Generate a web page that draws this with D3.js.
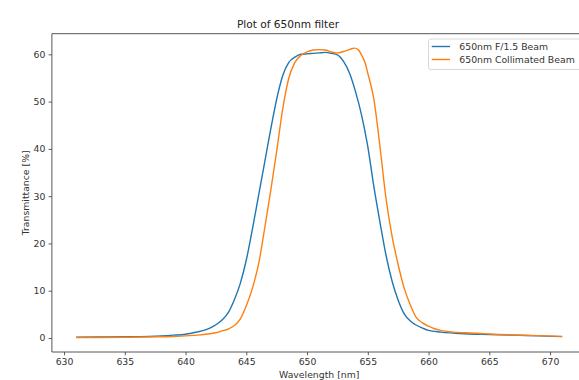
<!DOCTYPE html>
<html>
<head>
<meta charset="utf-8">
<script src="https://cdn.jsdelivr.net/npm/d3@7"></script>
<style>
  body { margin: 0; background: #fff; }
  text { font-family: "DejaVu Sans", sans-serif; }
</style>
</head>
<body>
<div id="chart"></div>
<script>
// wavelength [nm] / transmittance [%]
const blueWl = [631, 633, 635, 637, 638, 639, 640, 641, 641.5, 642, 642.5, 643, 643.5, 644, 644.5, 645, 645.5, 646, 646.5, 647, 647.5, 648, 648.5, 649, 649.5, 650, 650.5, 651, 651.5, 652, 652.5, 653, 653.5, 654, 654.5, 655, 655.5, 656, 656.5, 657, 657.5, 658, 658.5, 659, 659.5, 660, 661, 662, 663, 665, 667, 669, 671];
const blueT = [0.15, 0.2, 0.25, 0.35, 0.45, 0.6, 0.8, 1.3, 1.6, 2.1, 2.8, 3.8, 5.3, 8.0, 11.5, 16.5, 23, 30, 37, 44, 50.5, 55.5, 58.3, 59.4, 60.0, 60.1, 60.2, 60.3, 60.4, 60.2, 59.9, 58.5, 56, 52, 47, 40.5, 32, 24.5, 17.5, 12, 8, 5.1, 3.6, 2.7, 2.1, 1.6, 1.25, 1.05, 0.9, 0.75, 0.6, 0.45, 0.3];

const orangeWl = [631, 633, 635, 637, 638, 639, 640, 641, 642, 642.5, 643, 643.5, 644, 644.5, 645, 645.5, 646, 646.5, 647, 647.5, 648, 648.5, 649, 649.5, 650, 650.5, 651, 651.5, 652, 652.5, 653, 653.5, 653.9, 654.2, 654.5, 654.8, 655, 655.5, 656, 656.5, 657, 657.5, 658, 658.5, 659, 659.5, 660, 660.5, 661, 662, 663, 664, 665, 667, 669, 671];
const orangeT = [0.1, 0.12, 0.15, 0.2, 0.25, 0.3, 0.45, 0.6, 0.9, 1.1, 1.5, 1.9, 2.6, 4.0, 6.8, 10.5, 15.5, 23, 31, 39.5, 48.5, 55.0, 58.3, 59.8, 60.5, 60.9, 61.0, 60.9, 60.5, 60.3, 60.6, 61.0, 61.3, 61.0, 59.8, 58, 56, 50.5, 40.5, 29.5, 21.5, 15.5, 10.5, 7, 4.3, 3.2, 2.5, 1.95, 1.6, 1.25, 1.1, 1.0, 0.85, 0.65, 0.5, 0.35];

const seriesNames = ["650nm F/1.5 Beam", "650nm Collimated Beam"];
const xTicks = [630, 635, 640, 645, 650, 655, 660, 665, 670];
const yTicks = [0, 10, 20, 30, 40, 50, 60];

const series = [
  { name: seriesNames[0], color: "#1f77b4", values: blueWl.map((w, i) => ({ w: w, t: blueT[i] })) },
  { name: seriesNames[1], color: "#ff7f0e", values: orangeWl.map((w, i) => ({ w: w, t: orangeT[i] })) }
];

const W = 579, H = 380;
// axes box (right side runs past the picture edge, like the reference)
const box = { left: 51.9, right: 586.5, top: 33.7, bottom: 352 };

const svg = d3.select("#chart")
  .append("svg")
    .attr("width", W)
    .attr("height", H);

const x = d3.scaleLinear().domain([629, 673]).range([box.left, box.right]);
const y = d3.scaleLinear().domain([-2.96, 64.36]).range([box.bottom, box.top]);

// axes
const xAxis = svg.append("g")
  .attr("transform", `translate(0,${box.bottom})`)
  .call(d3.axisBottom(x).tickValues(xTicks).tickSize(3.3).tickPadding(3.3).tickSizeOuter(0));
const yAxis = svg.append("g")
  .attr("transform", `translate(${box.left},0)`)
  .call(d3.axisLeft(y).tickValues(yTicks).tickSize(3.3).tickPadding(3.3).tickSizeOuter(0));

[xAxis, yAxis].forEach(a => {
  a.select(".domain").remove();
  a.selectAll(".tick line").attr("stroke", "#333").attr("stroke-width", 0.8);
  a.selectAll(".tick text").attr("fill", "#333").style("font-size", "9.3px").style("font-family", "DejaVu Sans");
});

// spines
svg.append("path")
  .attr("d", `M${box.left},${box.bottom}V${box.top}H${box.right}`)
  .attr("fill", "none").attr("stroke", "#444").attr("stroke-width", 0.9);
svg.append("line")
  .attr("x1", box.left).attr("x2", box.right)
  .attr("y1", box.bottom).attr("y2", box.bottom)
  .attr("stroke", "#444").attr("stroke-width", 0.9);

// lines
const line = d3.line()
  .x(d => x(d.w))
  .y(d => y(d.t))
  .curve(d3.curveMonotoneX);

svg.selectAll(".series")
  .data(series)
  .enter()
  .append("path")
    .attr("class", "series")
    .attr("d", d => line(d.values))
    .attr("fill", "none")
    .attr("stroke", d => d.color)
    .attr("stroke-width", 1.4);

// title and labels
svg.append("text")
  .attr("x", 288)
  .attr("y", 28)
  .style("text-anchor", "middle")
  .style("font-size", "10.6px")
  .attr("fill", "#222")
  .text("Plot of 650nm filter");

svg.append("text")
  .attr("x", (box.left + box.right) / 2)
  .attr("y", 378)
  .style("text-anchor", "middle")
  .style("font-size", "9.3px")
  .attr("fill", "#333")
  .text("Wavelength [nm]");

svg.append("text")
  .attr("transform", "rotate(-90)")
  .attr("x", -(box.top + box.bottom) / 2)
  .attr("y", 28.5)
  .style("text-anchor", "middle")
  .style("font-size", "9.3px")
  .attr("fill", "#333")
  .text("Transmittance [%]");

// legend
const legend = svg.append("g");
legend.append("rect")
  .attr("x", 428.5).attr("y", 39)
  .attr("width", 153).attr("height", 30.5)
  .attr("rx", 2.5)
  .attr("fill", "#fff").attr("fill-opacity", 0.8)
  .attr("stroke", "#d5d5d5").attr("stroke-width", 0.9);

const items = legend.selectAll(".item")
  .data(series)
  .enter()
  .append("g")
    .attr("class", "item")
    .attr("transform", (d, i) => `translate(0,${46.5 + i * 13})`);
items.append("line")
  .attr("x1", 431.7).attr("x2", 450)
  .attr("stroke", d => d.color).attr("stroke-width", 1.4);
items.append("text")
  .attr("x", 459.3).attr("y", 3.3)
  .style("font-size", "9.3px")
  .attr("fill", "#333")
  .text(d => d.name);
</script>
</body>
</html>
